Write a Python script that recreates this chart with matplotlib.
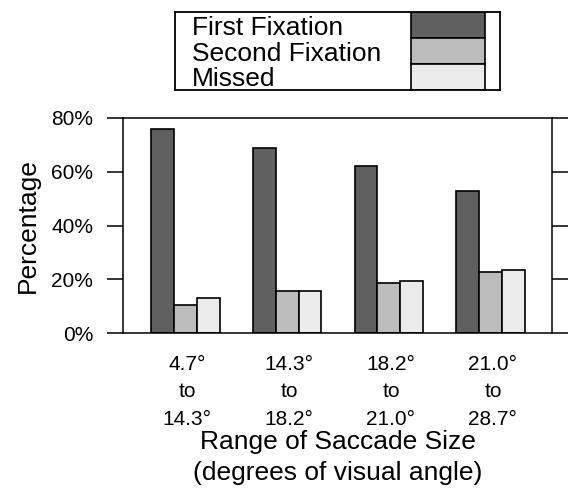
import numpy as np
import matplotlib
matplotlib.use("Agg")
import matplotlib.pyplot as plt
from matplotlib.patches import Rectangle
from matplotlib.ticker import PercentFormatter

plt.rcParams['font.family'] = ['Liberation Sans', 'DejaVu Sans']

ranges = ["4.7°\nto\n14.3°", "14.3°\nto\n18.2°", "18.2°\nto\n21.0°", "21.0°\nto\n28.7°"]
first_fix = [76, 69, 62, 53]
second_fix = [10.5, 15.5, 18.5, 22.8]
missed = [13, 15.5, 19.5, 23.5]
series_names = ["First Fixation", "Second Fixation", "Missed"]
colors = ["#606060", "#bcbcbc", "#ebebeb"]

fig = plt.figure(figsize=(5.71, 4.96), dpi=100)
ax = fig.add_axes([0.2154, 0.3286, 0.7513, 0.4335])

x = np.arange(len(ranges))
w = 0.225
for i, vals in enumerate([first_fix, second_fix, missed]):
    ax.bar(x + (i - 1) * w, vals, w, color=colors[i], edgecolor="black",
           linewidth=1.2, label=series_names[i])

ax.set_xlim(-0.61, 3.6)
ax.set_ylim(0, 80)
ax.set_yticks([0, 20, 40, 60, 80])
ax.yaxis.set_major_formatter(PercentFormatter(decimals=0))
ax.tick_params(axis="y", which="both", direction="out", length=11.5, width=1.1,
               left=True, right=True, labelsize=15, pad=10)
ax.set_xticks(x + 0.02)
ax.set_xticklabels(ranges, fontsize=15, linespacing=1.55)
ax.tick_params(axis="x", length=0, pad=16)
for s in ax.spines.values():
    s.set_linewidth(1.1)

ax.set_ylabel("Percentage", fontsize=19, labelpad=8)
ax.set_xlabel("Range of Saccade Size\n(degrees of visual angle)", fontsize=19,
              linespacing=1.38, labelpad=1)

# boxed key at the top: names on the left, swatches stacked on the right
lax = fig.add_axes([175 / 571, 1 - 90 / 496, 325 / 571, 78 / 496])
lax.set_xlim(0, 325)
lax.set_ylim(78, 0)
lax.set_xticks([])
lax.set_yticks([])
for s in lax.spines.values():
    s.set_linewidth(1.3)
row_h = 26
for i, name in enumerate(series_names):
    lax.text(17, 23 + i * row_h - (1 if i == 2 else 0), name, fontsize=19,
             va="baseline", ha="left")
    lax.add_patch(Rectangle((236, i * row_h), 74, row_h, facecolor=colors[i],
                            edgecolor="black", linewidth=1.2))

fig.savefig("out.png", dpi=100)
